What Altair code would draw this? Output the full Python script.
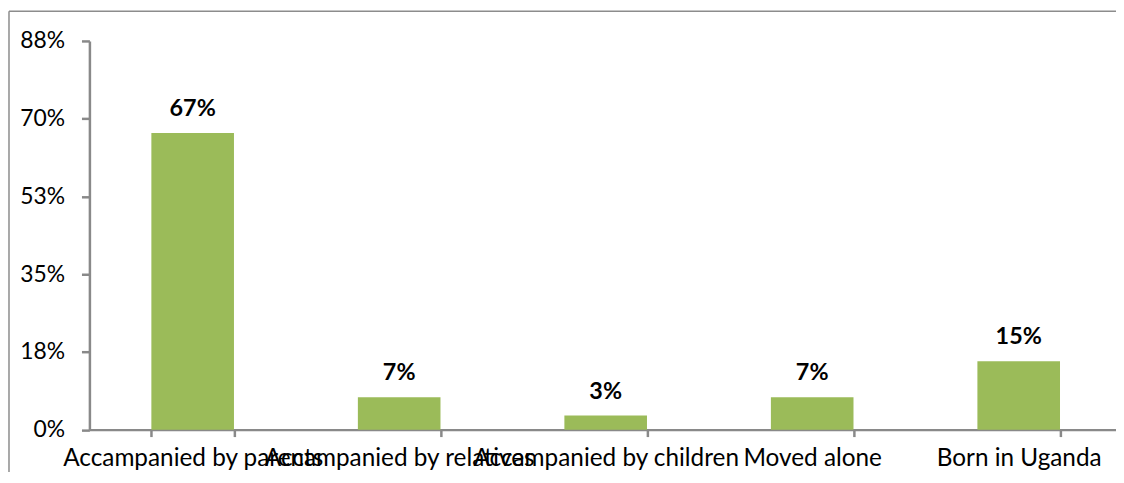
import altair as alt
import pandas as pd

categories = ["Accampanied by parents", "Accampanied by relatives", "Accampanied by children", "Moved alone", "Born in Uganda"]
values = [66.8, 7.3, 3.2, 7.3, 15.4]
value_labels = ["67%", "7%", "3%", "7%", "15%"]
tick_values = [0, 17.5, 35, 52.5, 70, 87.5]
tick_labels = ["0%", "18%", "35%", "53%", "70%", "88%"]

df = pd.DataFrame({"cat": categories, "val": values, "lab": value_labels})

FONT = "Lato"
GRAY = "#898989"
label_map = "{" + ",".join(f"'{v}':'{l}'" for v, l in zip(tick_values, tick_labels)) + "}"

x = alt.X("cat:N", sort=categories, title=None,
          scale=alt.Scale(range=[0, 1040], paddingInner=0.6, paddingOuter=0.3),
          axis=alt.Axis(labelAngle=0, labelFont=FONT, labelFontSize=24.5, labelColor="#000000",
                        labelBaseline="alphabetic", labelPadding=29, tickSize=7,
                        tickBand="extent", tickColor=GRAY, tickWidth=2.5,
                        domainColor=GRAY, domainWidth=2.5, labelOverlap=False,
                        labelLimit=0, labelFlush=False))

y = alt.Y("val:Q", title=None,
          scale=alt.Scale(domain=[0, 87.5], nice=False, zero=True),
          axis=alt.Axis(values=tick_values, labelExpr=label_map + "[toString(datum.value)]",
                        labelFont=FONT, labelFontSize=23, labelColor="#000000",
                        labelPadding=17, tickSize=8, tickColor=GRAY, tickWidth=2.5,
                        domainColor=GRAY, domainWidth=2.5, grid=False))

bars = alt.Chart(df).mark_bar(color="#9BBB59").encode(x=x, y=y)

text = alt.Chart(df).mark_text(font=FONT, fontSize=23.5, fontWeight="bold", color="#000000",
                               baseline="alphabetic", dy=-17).encode(
    x=alt.X("cat:N", sort=categories), y="val:Q", text="lab:N")

one = pd.DataFrame({"a": [0]})
border_top = alt.Chart(one).mark_rule(color="#8c8c8c", strokeWidth=1.5).encode(
    x=alt.value(-81), x2=alt.value(1300), y=alt.value(-30))
border_left = alt.Chart(one).mark_rule(color="#8c8c8c", strokeWidth=1.5).encode(
    x=alt.value(-81), y=alt.value(-30), y2=alt.value(700))

chart = alt.layer(border_top, border_left, bars, text).properties(
    width=1026, height=391.5,
    background="white",
    autosize=alt.AutoSizeParams(type="none"),
    padding={"left": 82, "top": 31.5, "right": 8, "bottom": 41},
).configure_view(stroke=None)

chart.save("out.html", embed_options={"renderer": "svg", "actions": False})
